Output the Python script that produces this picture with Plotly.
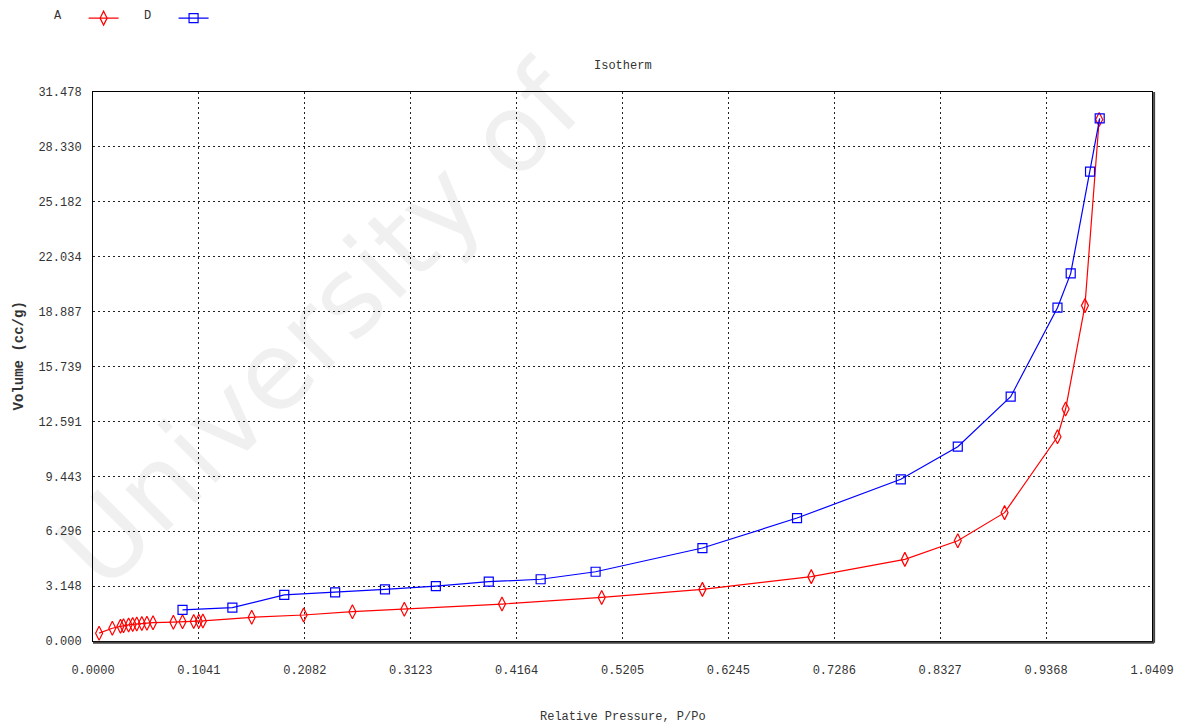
import plotly.graph_objects as go

# Adsorption isotherm data: relative pressure P/Po and adsorbed volume (cc/g)
p_a = [0.006, 0.019, 0.027, 0.030, 0.035, 0.039, 0.043, 0.048, 0.053, 0.059,
       0.079, 0.088, 0.099, 0.104, 0.108, 0.156, 0.207, 0.255, 0.306, 0.402,
       0.500, 0.599, 0.706, 0.798, 0.850, 0.896, 0.948, 0.956, 0.975, 0.989]
v_a = [0.45, 0.73, 0.84, 0.88, 0.92, 0.95, 0.97, 1.00, 1.02, 1.05,
       1.08, 1.10, 1.12, 1.13, 1.15, 1.36, 1.49, 1.68, 1.82, 2.12,
       2.50, 2.96, 3.69, 4.68, 5.75, 7.36, 11.71, 13.30, 19.23, 29.90]

p_d = [0.088, 0.137, 0.188, 0.238, 0.287, 0.337, 0.389, 0.440, 0.494, 0.599,
       0.692, 0.794, 0.850, 0.902, 0.948, 0.961, 0.980, 0.9895]
v_d = [1.78, 1.91, 2.64, 2.79, 2.96, 3.15, 3.40, 3.54, 3.97, 5.33,
       7.05, 9.27, 11.14, 14.01, 19.11, 21.08, 26.91, 29.97]

x_ticks = [0.0, 0.1041, 0.2082, 0.3123, 0.4164, 0.5205, 0.6245, 0.7286, 0.8327, 0.9368, 1.0409]
x_labels = ["0.0000", "0.1041", "0.2082", "0.3123", "0.4164", "0.5205",
            "0.6245", "0.7286", "0.8327", "0.9368", "1.0409"]
y_ticks = [0.0, 3.148, 6.296, 9.443, 12.591, 15.739, 18.887, 22.034, 25.182, 28.330, 31.478]
y_labels = ["0.000", "3.148", "6.296", "9.443", "12.591", "15.739",
            "18.887", "22.034", "25.182", "28.330", "31.478"]

FONT = "Liberation Mono"
TXT = "#333333"
NB = "\u00a0"

fig = go.Figure()
fig.add_trace(go.Scatter(
    x=p_a, y=v_a, name="A", mode="lines+markers", legend="legend",
    line=dict(color="#ff0000", width=1.2),
    marker=dict(symbol="diamond-tall-open", size=10, color="#ff0000", line=dict(width=1.2)),
))
fig.add_trace(go.Scatter(
    x=p_d, y=v_d, name="D", mode="lines+markers", legend="legend2",
    line=dict(color="#0000ff", width=1.2),
    marker=dict(symbol="square-open", size=9, color="#0000ff", line=dict(width=1.2)),
))

axis_common = dict(
    showgrid=True, gridcolor="#222222", gridwidth=1, griddash="2px,3px",
    showline=True, linecolor="black", linewidth=1, mirror=True,
    zeroline=False, ticks="", tickfont=dict(family=FONT, size=12, color=TXT),
)

fig.update_xaxes(range=[0, 1.0409], tickvals=x_ticks, ticktext=x_labels,
                 ticklabelstandoff=18, **axis_common)
fig.update_yaxes(range=[0, 31.478], tickvals=y_ticks, ticktext=y_labels,
                 ticklabelstandoff=8, **axis_common)

# Drop shadow along the bottom and right frame edges
fig.add_shape(type="line", xref="x domain", yref="y domain", x0=0, x1=1.002, y0=-0.003, y1=-0.003,
              line=dict(color="#444444", width=2))
fig.add_shape(type="line", xref="x domain", yref="y domain", x0=1.002, x1=1.002, y0=-0.003, y1=1,
              line=dict(color="#444444", width=2))

# Legend entries show the series name to the left of its line sample
legend_common = dict(
    orientation="h", xanchor="left", y=0.995, yanchor="top",
    xref="container", yref="container", itemwidth=30, bgcolor="rgba(0,0,0,0)",
    font=dict(family=FONT, size=12, color="rgba(0,0,0,0)"),
)

fig.update_layout(
    width=1184, height=727,
    paper_bgcolor="white", plot_bgcolor="white",
    margin=dict(l=93, r=32, t=92, b=86, autoexpand=False),
    font=dict(family=FONT, size=12, color=TXT),
    showlegend=True,
    legend=dict(x=0.0439, title=dict(text="A" + NB * 2, side="left",
                                     font=dict(family=FONT, size=12, color=TXT)),
                **legend_common),
    legend2=dict(x=0.1199, title=dict(text="D" + NB * 2, side="left",
                                      font=dict(family=FONT, size=12, color=TXT)),
                 **legend_common),
    annotations=[
        dict(text="Isotherm", x=0.5, y=1.047, xref="paper", yref="paper",
             xanchor="center", yanchor="middle", showarrow=False,
             font=dict(family=FONT, size=12, color=TXT)),
        dict(text="Relative Pressure, P/Po", x=0.5, y=-0.138, xref="paper", yref="paper",
             xanchor="center", yanchor="middle", showarrow=False,
             font=dict(family=FONT, size=12, color=TXT)),
        dict(text="<b>Volume (cc/g)</b>", x=-0.070, y=0.52, xref="paper", yref="paper",
             xanchor="center", yanchor="middle", showarrow=False, textangle=-90,
             font=dict(family=FONT, size=14, color=TXT)),
        dict(text="University of", x=0.214, y=0.575, xref="paper", yref="paper",
             xanchor="center", yanchor="middle", showarrow=False, textangle=-45,
             font=dict(family="DejaVu Sans", size=108, color="rgba(0,0,0,0.06)")),
    ],
)

fig.write_html("out.html")
